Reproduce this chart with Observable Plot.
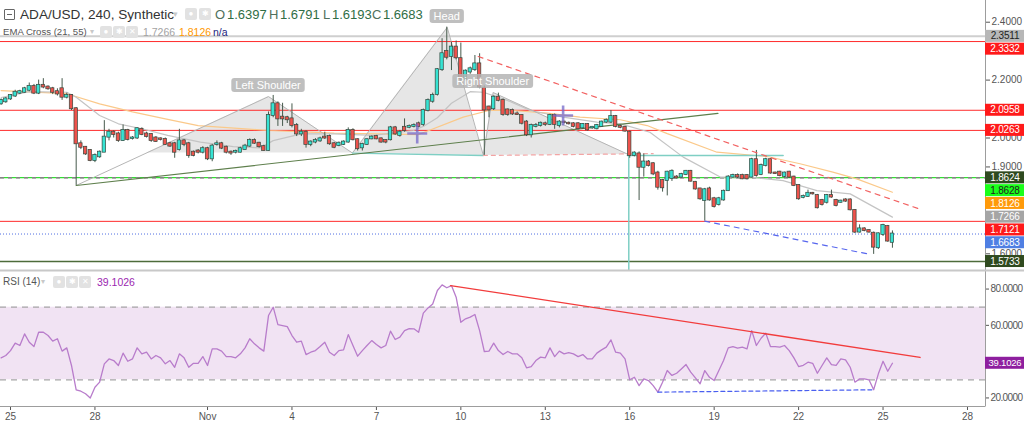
<!DOCTYPE html>
<html>
<head>
<meta charset="utf-8">
<script src="https://cdn.jsdelivr.net/npm/d3@7"></script>
<script src="https://cdn.jsdelivr.net/npm/@observablehq/plot@0.6"></script>
<style>
html,body{margin:0;padding:0;background:#fff;}
#chart{position:relative;width:1024px;height:422px;overflow:hidden;font-family:"Liberation Sans",Arial,sans-serif;}
#price,#rsi{position:absolute;left:0;}
#price{top:0}
#rsi{top:270px}
.lg{position:absolute;white-space:nowrap;line-height:1;}
.ic{position:absolute;width:12px;height:12px;background:#e2e2e2;border-radius:2px;color:#fff;font-size:8px;line-height:12px;text-align:center;}
</style>
</head>
<body>
<div id="chart">
  <div id="price"></div>
  <div id="rsi"></div>
  <div id="legend"></div>
</div>
<script>
// ---------------- DATA ----------------
const firstBar = "2021-10-24T16:00:00Z";   // first 4h candle
const barHours = 4;
const openP = [
2.118,2.125,2.135,2.145,2.155,2.158,2.165,2.178,2.155,2.182,
2.176,2.170,2.160,2.170,2.141,2.147,2.101,1.980,1.968,1.957,
1.922,1.935,1.951,2.003,2.020,2.014,1.991,2.026,1.998,2.000,
2.030,2.014,2.012,2.000,1.997,1.995,1.980,1.980,1.960,1.990,
1.980,1.951,1.955,1.951,1.963,1.928,1.978,1.980,1.968,1.951,
1.951,1.951,1.960,1.972,1.991,1.982,1.970,1.957,2.078,2.118,
2.072,2.070,2.066,2.043,2.014,2.020,1.978,1.986,1.990,2.003,
2.005,1.980,1.974,1.978,1.986,2.026,1.994,1.966,1.978,1.997,
2.005,1.997,1.991,1.994,2.035,2.009,2.037,2.037,2.040,2.049,
2.047,2.095,2.127,2.150,2.236,2.299,2.282,2.314,2.274,2.201,
2.228,2.236,2.256,2.172,2.107,2.101,2.141,2.130,2.097,2.095,
2.083,2.078,2.055,2.011,2.040,2.043,2.049,2.047,2.078,2.043,
2.055,2.051,2.049,2.049,2.035,2.047,2.035,2.032,2.040,2.055,
2.055,2.074,2.040,2.037,2.020,1.940,1.945,1.899,1.917,1.911,
1.879,1.853,1.853,1.860,1.865,1.865,1.874,1.885,1.847,1.824,
1.784,1.824,1.790,1.770,1.786,1.818,1.865,1.870,1.870,1.870,
1.865,1.925,1.874,1.905,1.925,1.879,1.882,1.867,1.882,1.865,
1.836,1.795,1.798,1.809,1.801,1.784,1.778,1.801,1.784,1.778,
1.786,1.786,1.750,1.675,1.686,1.680,1.671,1.621,1.667,1.694,
1.6397];
const highP = [
2.135,2.140,2.150,2.165,2.165,2.175,2.190,2.185,2.200,2.205,
2.180,2.175,2.170,2.205,2.155,2.150,2.105,1.990,1.970,1.960,
1.945,1.955,2.060,2.030,2.025,2.020,2.045,2.030,2.005,2.035,
2.035,2.020,2.015,2.005,2.000,2.000,1.985,1.985,2.030,1.995,
1.985,1.955,1.960,1.970,1.968,1.978,1.990,1.985,1.972,1.955,
1.958,1.968,1.978,1.997,1.997,1.985,1.975,2.090,2.147,2.125,
2.120,2.075,2.118,2.050,2.030,2.025,1.990,1.998,2.003,2.020,
2.010,1.985,1.986,1.990,2.035,2.032,1.997,1.982,1.997,2.007,
2.009,2.000,1.994,2.040,2.040,2.026,2.066,2.045,2.049,2.055,
2.100,2.135,2.155,2.240,2.343,2.383,2.331,2.335,2.328,2.235,
2.245,2.285,2.291,2.180,2.110,2.145,2.155,2.135,2.100,2.100,
2.090,2.080,2.060,2.048,2.050,2.055,2.055,2.082,2.083,2.060,
2.058,2.055,2.053,2.053,2.050,2.050,2.040,2.047,2.058,2.066,
2.095,2.078,2.045,2.040,2.024,1.952,1.952,1.945,1.922,1.915,
1.885,1.857,1.885,1.890,1.870,1.878,1.888,1.888,1.850,1.826,
1.826,1.830,1.795,1.795,1.820,1.870,1.875,1.876,1.875,1.874,
1.930,1.957,1.910,1.930,1.928,1.882,1.885,1.882,1.885,1.868,
1.838,1.803,1.820,1.812,1.805,1.788,1.805,1.820,1.788,1.785,
1.790,1.790,1.752,1.700,1.690,1.683,1.675,1.672,1.702,1.698,
1.6791];
const lowP = [
2.113,2.120,2.130,2.140,2.150,2.155,2.160,2.150,2.150,2.170,
2.165,2.150,2.145,2.130,2.135,2.095,1.836,1.960,1.940,1.918,
1.915,1.930,1.950,1.990,2.000,1.985,1.988,1.990,1.993,1.995,
2.008,2.000,1.985,1.985,1.990,1.975,1.968,1.930,1.955,1.970,
1.930,1.935,1.945,1.945,1.922,1.918,1.972,1.960,1.945,1.940,
1.945,1.948,1.958,1.968,1.978,1.965,1.955,1.955,2.070,2.040,
2.040,2.050,2.035,2.005,2.005,1.965,1.970,1.980,1.985,1.995,
1.975,1.963,1.970,1.974,1.982,1.990,1.955,1.955,1.974,1.994,
1.994,1.982,1.980,1.990,2.009,2.003,2.020,2.032,2.035,2.035,
2.040,2.090,2.120,2.145,2.230,2.270,2.233,2.270,2.190,2.195,
2.220,2.230,2.170,1.940,2.070,2.095,2.125,2.075,2.075,2.078,
2.078,2.045,2.005,2.000,2.035,2.038,2.040,2.043,2.030,2.035,
2.048,2.045,2.035,2.028,2.030,2.024,2.030,2.028,2.037,2.050,
2.050,2.035,2.032,2.020,1.930,1.935,1.784,1.865,1.900,1.870,
1.820,1.813,1.800,1.850,1.858,1.862,1.870,1.848,1.820,1.785,
1.713,1.782,1.758,1.765,1.782,1.815,1.862,1.860,1.856,1.855,
1.862,1.865,1.870,1.900,1.875,1.874,1.866,1.862,1.860,1.832,
1.785,1.790,1.795,1.803,1.755,1.765,1.772,1.792,1.762,1.775,
1.778,1.748,1.670,1.672,1.676,1.672,1.598,1.615,1.660,1.640,
1.6193];
const closeP = [
2.130,2.135,2.147,2.158,2.160,2.170,2.178,2.155,2.182,2.176,
2.170,2.158,2.152,2.141,2.147,2.101,1.980,1.968,1.945,1.922,
1.940,1.951,2.003,2.020,2.012,1.991,2.026,1.995,2.000,2.032,
2.012,2.005,1.991,1.988,1.995,1.978,1.972,1.951,1.990,1.978,
1.940,1.940,1.951,1.963,1.928,1.972,1.980,1.965,1.951,1.948,
1.954,1.963,1.972,1.991,1.982,1.970,1.957,2.078,2.118,2.066,
2.066,2.063,2.043,2.014,2.020,1.978,1.986,1.991,1.997,2.000,
1.980,1.968,1.982,1.986,2.026,1.994,1.963,1.978,1.994,2.003,
1.997,1.986,1.986,2.035,2.014,2.020,2.026,2.040,2.043,2.040,
2.095,2.130,2.147,2.236,2.291,2.279,2.314,2.277,2.204,2.231,
2.239,2.256,2.176,2.097,2.097,2.141,2.130,2.081,2.081,2.083,
2.081,2.051,2.011,2.043,2.043,2.051,2.047,2.078,2.047,2.055,
2.053,2.049,2.040,2.032,2.047,2.028,2.037,2.043,2.055,2.061,
2.074,2.040,2.037,2.024,1.940,1.948,1.899,1.917,1.905,1.876,
1.830,1.828,1.882,1.885,1.862,1.874,1.885,1.851,1.824,1.790,
1.821,1.786,1.763,1.790,1.816,1.865,1.870,1.865,1.859,1.859,
1.925,1.870,1.905,1.925,1.879,1.877,1.870,1.879,1.865,1.836,
1.790,1.798,1.809,1.807,1.759,1.770,1.801,1.796,1.767,1.782,
1.782,1.752,1.675,1.686,1.680,1.675,1.623,1.669,1.698,1.644,
1.6683];
const rsi14 = [
42.1,43.4,46.1,50.2,48.9,55.3,50.7,48.3,56.2,56.2,
54.4,51.3,52.6,45.8,47.6,37.9,24.5,23.7,22.3,20.0,
25.9,28.7,38.8,41.5,40.6,37.9,44.7,40.2,41.5,47.6,
44.3,45.2,41.5,43.4,42.1,38.8,40.6,36.9,44.3,42.1,
36.9,39.1,39.1,42.8,37.9,47.0,47.0,45.8,42.8,42.8,
42.1,44.3,47.6,52.6,49.8,47.6,45.8,65.4,70.0,60.4,
59.9,59.3,54.4,50.7,51.3,43.9,45.2,46.1,48.3,50.7,
45.2,43.4,46.1,46.5,54.9,48.9,43.0,46.1,48.9,51.6,
49.4,47.6,48.9,56.8,52.2,53.5,57.1,58.2,58.1,56.2,
66.7,69.6,71.8,79.2,82.3,80.7,81.9,75.5,61.7,63.6,
64.5,66.0,57.1,45.6,45.8,50.2,46.1,43.9,45.6,44.3,
44.3,42.1,36.6,37.3,40.6,42.5,42.1,47.6,42.8,45.8,
44.3,45.0,44.3,42.8,43.9,41.5,41.5,44.7,46.5,48.0,
52.0,45.2,44.7,41.5,30.0,31.4,26.8,30.5,29.6,26.8,
23.2,28.7,35.1,32.4,33.6,36.0,38.4,34.2,31.1,27.8,
35.1,31.4,29.6,35.1,40.6,47.6,48.3,47.4,48.0,47.0,
57.1,48.9,52.9,55.7,48.3,48.3,48.0,48.9,46.1,42.1,
37.3,38.0,39.7,39.1,33.6,37.9,42.1,38.4,37.9,41.5,
41.0,36.9,28.7,30.5,30.5,30.0,24.5,33.3,40.2,34.7,
39.1026];
// EMA lines (candle index, value)
const ema21Bar = [0,6,14,16,21,25,30,35.5,42.5,49.5,55.3,58,64,71,79.3,87.9,90,93,96,100,102.8,107.9,112.8,119.8,127,132,138.3,145.4,153.3,159.6,166.7,173.9,181,190];
const ema21Val = [2.14,2.16,2.158,2.141,2.078,2.049,2.032,2.009,1.986,1.97,1.966,1.991,2.014,2.014,2.009,2.026,2.04,2.07,2.12,2.16,2.158,2.13,2.095,2.072,2.055,2.049,2.02,1.934,1.865,1.865,1.853,1.818,1.807,1.7266];
const ema55Bar = [0,14,21,28,35,42,57,71,89,98.5,104,109,116.5,123.4,132,137.7,142,152.6,163.3,170.3,177.3,182.4,190];
const ema55Val = [2.164,2.153,2.118,2.09,2.066,2.043,2.026,2.017,2.012,2.072,2.095,2.095,2.086,2.072,2.063,2.043,2.015,1.951,1.936,1.911,1.882,1.859,1.8126];

const xTickDates = ["2021-10-25","2021-10-28","2021-11-01","2021-11-04","2021-11-07","2021-11-10","2021-11-13","2021-11-16","2021-11-19","2021-11-22","2021-11-25","2021-11-28"];
const xTickLabels = ["25","28","Nov","4","7","10","13","16","19","22","25","28"];
const priceTicks = [1.6,1.9,2.0,2.2,2.4];   // the ones not hidden by tags
const rsiTicks = [20,60,80];
const rsiBand = [30,70];

// horizontal levels
const redLevels = [2.3332,2.0958,2.0263,1.7121];
const greyLevel = [2.3511];
const greenDashLevel = [1.8624];
const limeDashLevel = [1.8628];
const lastPrice = [1.6683];
const supportLevel = [1.5733];
// right-axis price tags, top to bottom
const tagValues = [2.3511,2.3332,2.0958,2.0263,1.8624,1.8628,1.8126,1.7266,1.7121,1.6683,1.5733];
const rsiLast = [39.1026];

// drawings: [candle index, price]
const greenTrend = [[16,1.836],[152.8,2.085]];
const redTrend = [[101.7,2.2815],[195.4,1.7566]];
const blueTrend = [[150,1.713],[185.2,1.598]];
const hsPointBars = [16,57,74.9,95.1,102.8,104.9,133.7];
const hsPointPrices = [1.836,2.143,1.948,2.382,1.9396,2.157,1.943];
const neckCross = [31,1.9485];
const hsLabelTexts = ["Left Shoulder","Head","Right Shoulder"];
const neckExt = [[102.8,1.9396],[139,1.946]];
const targetH = [[133.5,1.9396],[166.7,1.9396]];
const targetV = [[133.8,1.9396],[133.8,1.545]];
const crossMarks = [[88.7,2.0156],[119.8,2.0777]];
const rsiRedTrend = [[95.8,81.9],[195.9,42.3]];
const rsiBlueTrend = [[140,23.2],[186,24.5]];

// ---------------- BUILD ----------------
const H = 3600e3;
const t0 = +new Date(firstBar);
const barTime = i => new Date(t0 + i * barHours * H);
const day0 = +new Date("2021-10-25T00:00:00Z");
const DAY = 24 * H;
const xDomain = [new Date(day0 - 0.3553 * DAY), new Date(day0 + 34.64 * DAY)];
const bars = openP.map((o, i) => ({t: barTime(i), open: o, high: highP[i], low: lowP[i], close: closeP[i]}));
const rsiData = rsi14.map((v, i) => ({t: barTime(i), v}));
const ema21 = ema21Bar.map((b, k) => ({t: barTime(b), v: ema21Val[k]}));
const ema55 = ema55Bar.map((b, k) => ({t: barTime(b), v: ema55Val[k]}));
const pts = arr => arr.map(([b, p]) => ({t: barTime(b), v: p}));
const hsPts = hsPointBars.map((b, k) => [b, hsPointPrices[k]]);
const labelByTime = new Map(xTickDates.map((s, k) => [+new Date(s + "T00:00:00Z"), xTickLabels[k]]));
const FONT = '"Liberation Sans", Arial, sans-serif';
const measure = (() => { const c = document.createElement("canvas").getContext("2d"); return (txt, size) => { c.font = size + "px " + FONT; return c.measureText(txt).width; }; })();

const UP = "#36e3d3", DOWN = "#ee524c", EDGE = "#34463c";

const tagStyles = [
  {bg:"#b7b7b7", fg:"#222"}, {bg:"#ff1a1a", fg:"#fff"}, {bg:"#ff1a1a", fg:"#fff"}, {bg:"#ff1a1a", fg:"#fff"},
  {bg:"#2f4a1f", fg:"#fff"}, {bg:"#1aff1a", fg:"#222"}, {bg:"#ff9a0a", fg:"#fff"}, {bg:"#a5a5a5", fg:"#fff"},
  {bg:"#ff1a1a", fg:"#fff"}, {bg:"#4f7fe3", fg:"#fff"}, {bg:"#2f4a1f", fg:"#fff"}
];

function tagsMark(values, styles, size) {
  return (index, scales, values_, dims) => {
    const g = d3.create("svg:g");
    const x0 = dims.width - dims.marginRight;
    let prev = -Infinity;
    values.forEach((v, k) => {
      const y = Math.max(scales.y(v), prev + 12.8); prev = y;
      g.append("rect").attr("x", x0).attr("y", y - 6).attr("width", dims.marginRight).attr("height", 12).attr("fill", styles[k].bg);
      g.append("text").attr("x", x0 + dims.marginRight / 2 + 0.5).attr("y", y).attr("dy", "0.36em")
        .attr("text-anchor", "middle").attr("fill", styles[k].fg).attr("font-size", size).attr("font-family", FONT)
        .attr("letter-spacing", "-0.2").text(v.toFixed(4));
    });
    return g.node();
  };
}

function frameLines(kind) {
  return (index, scales, values_, dims) => {
    const g = d3.create("svg:g");
    const x0 = dims.width - dims.marginRight;
    const yb = dims.height - dims.marginBottom;
    g.append("line").attr("x1", x0 + 0.5).attr("x2", x0 + 0.5).attr("y1", 0).attr("y2", yb).attr("stroke", "#9d9d9d");
    if (kind === "rsi") {
      g.append("line").attr("x1", 0).attr("x2", x0 + 0.5).attr("y1", yb + 0.5).attr("y2", yb + 0.5).attr("stroke", "#9d9d9d");
      g.append("line").attr("x1", 0).attr("x2", dims.width).attr("y1", 0.5).attr("y2", 0.5).attr("stroke", "#c8c8c8").attr("stroke-width", 2);
    }
    return g.node();
  };
}

const hsFill = (index, {x, y}) => {
  const g = d3.create("svg:g");
  const P = hsPts;
  const tris = [[neckCross, P[1], P[2]], [P[2], P[3], P[4]], [P[4], P[5], P[6]]];
  for (const tri of tris) {
    g.append("polygon").attr("points", tri.map(([b, p]) => x(barTime(b)) + "," + y(p)).join(" "))
      .attr("fill", "#a3a3a3").attr("fill-opacity", 0.27);
  }
  return g.node();
};

const hsLabels = (index, {x, y}) => {
  const g = d3.create("svg:g");
  [1, 3, 5].forEach((k, j) => {
    const [b, p] = hsPts[k];
    const cx = x(barTime(b)), cy = y(p) - 11;
    const w = measure(hsLabelTexts[j], 11) + 8;
    g.append("rect").attr("x", cx - w / 2).attr("y", cy - 7).attr("width", w).attr("height", 14).attr("rx", 3)
      .attr("fill", "#b4b4b4").attr("fill-opacity", 0.85);
    g.append("text").attr("x", cx).attr("y", cy).attr("dy", "0.36em").attr("text-anchor", "middle")
      .attr("fill", "#fff").attr("font-size", 11).attr("font-family", FONT).text(hsLabelTexts[j]);
  });
  return g.node();
};

const pricePlot = Plot.plot({
  width: 1024, height: 270,
  marginTop: 0, marginBottom: 0, marginLeft: 0, marginRight: 39,
  style: {background: "transparent", fontFamily: FONT, fontSize: "10px", color: "#555", overflow: "visible"},
  x: {type: "utc", domain: xDomain, axis: null},
  y: {domain: [1.5423, 2.475], axis: "right", ticks: priceTicks, tickFormat: d => d.toFixed(4), tickSize: 4, tickPadding: 2, label: null},
  marks: [
    hsFill,
    Plot.ruleY(greyLevel, {stroke: "#cfcfcf", strokeWidth: 2}),
    Plot.ruleY(redLevels, {stroke: "#ff2b2b", strokeWidth: 1}),
    Plot.ruleY(greenDashLevel, {stroke: "#5d5d5d", strokeWidth: 1.2, strokeDasharray: "4,4"}),
    Plot.ruleY(limeDashLevel, {stroke: "#33dd33", strokeWidth: 1.2, strokeDasharray: "4,4", strokeDashoffset: 4}),
    Plot.ruleY(lastPrice, {stroke: "#4f6fe3", strokeWidth: 1, strokeDasharray: "1,2"}),
    Plot.ruleY(supportLevel, {stroke: "#4d6b3a", strokeWidth: 1.5}),
    Plot.line(ema55, {x: "t", y: "v", stroke: "#fbc98a", strokeWidth: 1.2}),
    Plot.line(ema21, {x: "t", y: "v", stroke: "#c4c4c4", strokeWidth: 1.2}),
    Plot.line(pts(hsPts), {x: "t", y: "v", stroke: "#b5b5b5", strokeWidth: 1}),
    Plot.line(pts([hsPts[2], hsPts[4]]), {x: "t", y: "v", stroke: "#7fcfc4", strokeWidth: 1.3}),
    Plot.line(pts(neckExt), {x: "t", y: "v", stroke: "#f2a4a4", strokeWidth: 1.2, strokeDasharray: "4,4"}),
    Plot.line(pts(targetH), {x: "t", y: "v", stroke: "#7fcfc4", strokeWidth: 1.5}),
    Plot.line(pts(targetV), {x: "t", y: "v", stroke: "#7fcfc4", strokeWidth: 1.5}),
    Plot.line(pts(greenTrend), {x: "t", y: "v", stroke: "#5e7f4c", strokeWidth: 1.2}),
    Plot.ruleX(bars, {x: "t", y1: "low", y2: "high", stroke: "#465a4c", strokeWidth: 1}),
    Plot.rect(bars, {
      x1: d => new Date(+d.t - 1.45 * H), x2: d => new Date(+d.t + 1.45 * H),
      y1: "open", y2: "close", insetTop: -0.5, insetBottom: -0.5,
      fill: d => d.close >= d.open ? UP : DOWN, stroke: EDGE, strokeWidth: 0.7
    }),
    Plot.line(pts(redTrend), {x: "t", y: "v", stroke: "#f26262", strokeWidth: 1.2, strokeDasharray: "5,5"}),
    Plot.line(pts(blueTrend), {x: "t", y: "v", stroke: "#5766ee", strokeWidth: 1.2, strokeDasharray: "5,5"}),
    Plot.dot(pts(crossMarks), {x: "t", y: "v", symbol: "plus", r: 6.5, stroke: "#7468c9", strokeWidth: 2.6, strokeOpacity: 0.75}),
    hsLabels,
    frameLines("price"),
    tagsMark(tagValues, tagStyles, 10)
  ]
});
document.getElementById("price").appendChild(pricePlot);

const rsiPlot = Plot.plot({
  width: 1024, height: 152,
  marginTop: 1, marginBottom: 16, marginLeft: 0, marginRight: 39,
  style: {background: "transparent", fontFamily: FONT, fontSize: "10px", color: "#555", overflow: "visible"},
  x: {type: "utc", domain: xDomain, ticks: xTickDates.map(s => new Date(s + "T00:00:00Z")), tickFormat: d => labelByTime.get(+d) ?? "", tickSize: 4, tickPadding: 2, label: null},
  y: {domain: [15.29, 89.67], axis: "right", ticks: rsiTicks, tickFormat: d => d.toFixed(4), tickSize: 3, tickPadding: 2, label: null},
  marks: [
    Plot.rectY([rsiBand], {x1: xDomain[0], x2: xDomain[1], y1: d => d[0], y2: d => d[1], fill: "#f1e3f3"}),
    Plot.ruleY(rsiBand, {stroke: "#a6a6a6", strokeWidth: 1.2, strokeDasharray: "6,5"}),
    Plot.line(rsiData, {x: "t", y: "v", stroke: "#b87ccb", strokeWidth: 1.3}),
    Plot.line(pts(rsiRedTrend), {x: "t", y: "v", stroke: "#f23c3c", strokeWidth: 1.3}),
    Plot.line(pts(rsiBlueTrend), {x: "t", y: "v", stroke: "#4a5ff0", strokeWidth: 1.2, strokeDasharray: "4,3"}),
    frameLines("rsi"),
    tagsMark(rsiLast, [{bg: "#8e1f9f", fg: "#fff"}], 9.5)
  ]
});
document.getElementById("rsi").appendChild(rsiPlot);
// tighten the 7-character RSI axis labels so they fit in the right margin
rsiPlot.querySelectorAll("g[aria-label='y-axis tick label'] text").forEach(t => t.setAttribute("letter-spacing", "-0.6"));

// ---------------- LEGENDS ----------------
const lg = document.getElementById("legend");
function put(txt, left, top, size, color) {
  const d = document.createElement("div");
  d.className = "lg";
  d.style.left = left + "px"; d.style.top = top + "px";
  d.style.fontSize = size + "px"; d.style.color = color;
  d.textContent = txt;
  lg.appendChild(d);
}
function icon(left, top, glyph) {
  const d = document.createElement("div");
  d.className = "ic"; d.style.left = left + "px"; d.style.top = top + "px"; d.textContent = glyph;
  lg.appendChild(d);
}
// line 1
const box = document.createElement("div");
Object.assign(box.style, {position: "absolute", left: "4px", top: "9px", width: "9px", height: "9px", border: "1px solid #666", borderRadius: "1px"});
const dash = document.createElement("div");
Object.assign(dash.style, {position: "absolute", left: "2px", top: "4px", width: "5px", height: "1px", background: "#666"});
box.appendChild(dash); lg.appendChild(box);
put("ADA/USD, 240, Synthetic", 20, 8, 13.6, "#333");
put("▾", 173, 10, 9, "#c8c8c8");
icon(185, 8, "●"); icon(199, 8, "✱");
const ohlcLetters = ["O", "H", "L", "C"];
const ohlcValues = ["1.6397", "1.6791", "1.6193", "1.6683"];
const ohlcLeft = [215, 269, 323, 372];
ohlcLetters.forEach((s, k) => {
  put(s, ohlcLeft[k], 8, 13, "#50705c");
  put(ohlcValues[k], ohlcLeft[k] + Math.ceil(measure(s, 13)) + 1, 8, 13, "#2f6e45");
});
// line 2
put("EMA Cross (21, 55)", 3, 27, 9.6, "#555");
put("▾", 90, 28, 8, "#c8c8c8");
icon(100, 26, "●"); icon(113, 26, "✱"); icon(126, 26, "✕");
put("1.7266", 143, 27, 10.5, "#a3a3a3");
put("1.8126", 179, 27, 10.5, "#ff9800");
put("n/a", 213, 27, 10.5, "#1c237e");
// RSI legend
put("RSI (14)", 3, 277, 10, "#555");
put("▾", 41, 278, 8, "#c8c8c8");
icon(53, 276, "●"); icon(66, 276, "✱"); icon(79, 276, "✕");
put("39.1026", 97, 277, 10.5, "#9c27b0");
</script>
</body>
</html>
